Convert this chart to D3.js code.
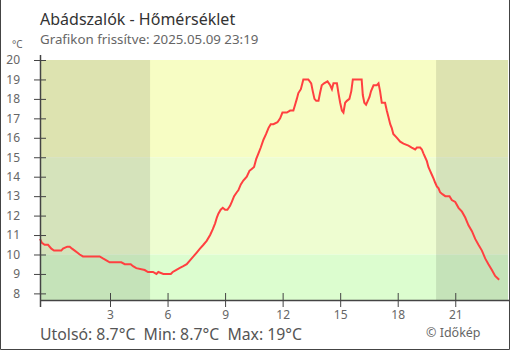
<!DOCTYPE html>
<html>
<head>
<meta charset="utf-8">
<script src="https://cdn.jsdelivr.net/npm/d3@7"></script>
<style>
  body { margin: 0; background: #fff; }
  svg { display: block; font-family: "Noto Sans", sans-serif; }
</style>
</head>
<body>
<div id="chart"></div>
<script>
// hours relative to 2025.05.09 00:00 (negative = previous evening)
const hours = [
  -0.65, -0.55, -0.41, -0.23, -0.06, 0.08, 0.46, 0.55, 0.77, 0.9, 1.02, 1.16, 1.29, 1.42, 1.59,
  2.46, 2.63, 2.81, 2.98, 3.59, 3.77, 4.08, 4.2, 4.37, 4.81, 4.98, 5.24, 5.42, 5.52, 5.78,
  6.17, 6.27, 6.44, 6.62, 6.82, 7.0, 7.17, 7.35, 7.52, 7.69, 7.87, 8.04, 8.22, 8.36, 8.48,
  8.57, 8.65, 8.77, 8.88, 9.0, 9.12, 9.26, 9.35, 9.47, 9.61, 9.69, 9.82, 9.95, 10.13, 10.27,
  10.39, 10.51, 10.62, 10.74, 10.86, 11.0, 11.14, 11.26, 11.38, 11.52, 11.73, 11.87, 11.99,
  12.22, 12.39, 12.56, 12.65, 12.74, 12.82, 12.95, 13.08, 13.34, 13.49, 13.57, 13.66, 13.75,
  13.87, 13.95, 14.04, 14.16, 14.34, 14.48, 14.57, 14.65, 14.83, 14.91, 15.0, 15.09, 15.17,
  15.26, 15.35, 15.48, 15.58, 15.66, 16.12, 16.18, 16.26, 16.35, 16.44, 16.53, 16.61, 16.74,
  16.91, 17.0, 17.08, 17.17, 17.34, 17.43, 17.51, 17.61, 17.69, 17.77, 17.96, 18.13, 18.3,
  18.56, 18.73, 18.91, 19.0, 19.17, 19.26, 19.34, 19.43, 19.52, 19.6, 19.69, 19.78, 19.87,
  19.95, 20.04, 20.13, 20.21, 20.33, 20.48, 20.7, 20.82, 21.0, 21.17, 21.35, 21.52, 21.69,
  21.87, 22.04, 22.21, 22.39, 22.56, 22.73, 22.91, 23.08, 23.29
];
const temps = [
  10.8, 10.6, 10.5, 10.5, 10.3, 10.2, 10.2, 10.3, 10.4, 10.4, 10.3, 10.2, 10.1, 10.0, 9.9,
  9.9, 9.8, 9.7, 9.6, 9.6, 9.5, 9.5, 9.4, 9.3, 9.2, 9.1, 9.1, 9.0, 9.1, 9.0,
  9.0, 9.1, 9.2, 9.3, 9.4, 9.5, 9.7, 9.9, 10.1, 10.3, 10.5, 10.7, 11.0, 11.3, 11.6,
  11.9, 12.1, 12.3, 12.4, 12.3, 12.3, 12.5, 12.7, 13.0, 13.2, 13.3, 13.6, 13.8, 14.0, 14.3,
  14.4, 14.5, 14.9, 15.2, 15.5, 15.9, 16.2, 16.5, 16.7, 16.7, 16.8, 17.0, 17.3,
  17.3, 17.4, 17.4, 17.7, 18.0, 18.3, 18.5, 19.0, 19.0, 18.8, 18.4, 18.0, 17.9,
  17.9, 18.3, 18.7, 18.8, 18.9, 18.7, 18.5, 18.8, 18.8, 18.3, 17.8, 17.4, 17.3,
  17.8, 17.9, 18.0, 18.4, 19.0, 19.0, 18.2, 17.8, 17.7, 17.9, 18.1, 18.4, 18.7,
  18.7, 18.8, 18.4, 17.8, 17.8, 17.4, 17.1, 16.7, 16.5, 16.2, 16.0, 15.8, 15.7,
  15.6, 15.5, 15.4, 15.5, 15.5, 15.4, 15.2, 15.0, 14.8, 14.5, 14.3, 14.1, 13.9,
  13.7, 13.5, 13.4, 13.2, 13.1, 13.0, 13.0, 12.8, 12.7, 12.4, 12.2, 11.9, 11.5,
  11.2, 10.8, 10.5, 10.2, 9.8, 9.5, 9.2, 8.9, 8.7
];
const tempBands = [20, 15, 10];
const bandColors = ["#f7fdc4", "#eefdd1", "#dcfdcf"];
const nightSpans = [[-0.65, 5.09], [20.0, 23.75]];
const yTicks = [8, 9, 10, 11, 12, 13, 14, 15, 16, 17, 18, 19, 20];
const xTicks = [3, 6, 9, 12, 15, 18, 21];

const title = "Abádszalók - Hőmérséklet";
const subtitle = "Grafikon frissítve: 2025.05.09 23:19";
const footer = "Utolsó: 8.7°C  Min: 8.7°C  Max: 19°C";

const width = 510;
const height = 350;

const svg = d3
  .select("#chart")
  .append("svg")
  .attr("width", width)
  .attr("height", height);

const x = d3.scaleLinear().domain([-0.65, 23.75]).range([40, 508]);
const y = d3.scaleLinear().domain([7.66, 20]).range([300, 60]);

// temperature bands
const bandEdges = tempBands.concat([y.domain()[0]]);
svg
  .append("g")
  .selectAll("rect")
  .data(tempBands)
  .join("rect")
  .attr("x", x(x.domain()[0]))
  .attr("width", x(x.domain()[1]) - x(x.domain()[0]))
  .attr("y", (d) => y(d))
  .attr("height", (d, i) => y(bandEdges[i + 1]) - y(d))
  .attr("fill", (d, i) => bandColors[i]);

// night shading
svg
  .append("g")
  .selectAll("rect")
  .data(nightSpans)
  .join("rect")
  .attr("x", (d) => x(d[0]))
  .attr("width", (d) => x(d[1]) - x(d[0]))
  .attr("y", y(20))
  .attr("height", y(y.domain()[0]) - y(20))
  .attr("fill", "#000")
  .attr("fill-opacity", 0.1);

// temperature line
const points = hours.map((h, i) => [h, temps[i]]);
svg
  .append("path")
  .datum(points)
  .attr("fill", "none")
  .attr("stroke", "#ff4040")
  .attr("stroke-width", 2)
  .attr("d", d3.line().x((d) => x(d[0])).y((d) => y(d[1])));

// y axis
const yAxis = svg
  .append("g")
  .attr("transform", "translate(40,0)")
  .call(d3.axisLeft(y).tickValues(yTicks).tickSize(6).tickPadding(14));
yAxis.select(".domain").remove();
yAxis.selectAll(".tick line").attr("x1", 6).attr("stroke", "#444");
yAxis
  .selectAll(".tick text")
  .attr("fill", "#666")
  .style("font-size", "12px")
  .style("font-family", "Noto Sans");

// x axis
const xAxis = svg
  .append("g")
  .attr("transform", "translate(0,300)")
  .call(d3.axisBottom(x).tickValues(xTicks).tickSize(7).tickPadding(3));
xAxis.select(".domain").remove();
xAxis.selectAll(".tick line").attr("y1", -7).attr("stroke", "#444");
xAxis
  .selectAll(".tick text")
  .attr("fill", "#666")
  .style("font-size", "12px")
  .style("font-family", "Noto Sans");

// axis lines
svg.append("line")
  .attr("x1", 40.5).attr("x2", 40.5).attr("y1", 55).attr("y2", 307)
  .attr("stroke", "#444").attr("stroke-width", 1.5);
svg.append("line")
  .attr("x1", 40).attr("x2", 509).attr("y1", 300.5).attr("y2", 300.5)
  .attr("stroke", "#444").attr("stroke-width", 1.5);

// unit label
svg.append("text")
  .attr("x", 12).attr("y", 48)
  .attr("fill", "#666")
  .style("font-size", "10px")
  .text("°C");

// titles
svg.append("text")
  .attr("x", 40).attr("y", 25)
  .attr("fill", "#333")
  .style("font-size", "16px")
  .text(title);
svg.append("text")
  .attr("x", 40).attr("y", 44)
  .attr("fill", "#666")
  .style("font-size", "13.3px")
  .text(subtitle);

// footer
svg.append("text")
  .attr("x", 40).attr("y", 340)
  .attr("fill", "#555")
  .style("font-size", "15.8px")
  .attr("xml:space", "preserve")
  .text(footer);
svg.append("text")
  .attr("x", 426).attr("y", 337)
  .attr("fill", "#666")
  .style("font-size", "12.5px")
  .text("© Időkép");

// frame
svg.append("path")
  .attr("d", "M0.5,0V349.5H509.5V0")
  .attr("fill", "none")
  .attr("stroke", "#444")
  .attr("stroke-width", 1);
</script>
</body>
</html>
